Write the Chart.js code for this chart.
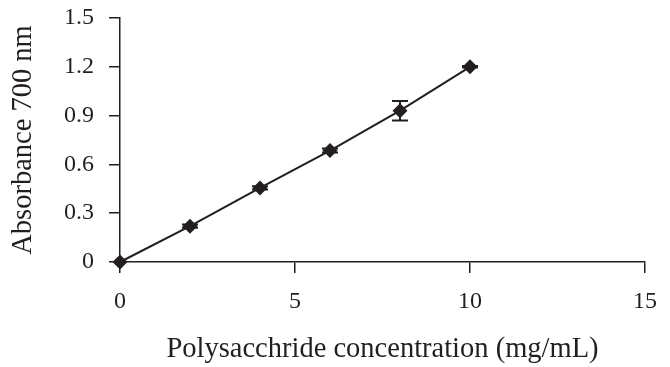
<!DOCTYPE html>
<html>
<head>
<meta charset="utf-8">
<script src="https://cdn.jsdelivr.net/npm/chart.js@4.4.1/dist/chart.umd.min.js"></script>
<style>
  html, body { margin: 0; padding: 0; background: #fff; }
  #wrap { width: 670px; height: 367px; }
</style>
</head>
<body>
<div id="wrap"><canvas id="chart" width="670" height="367"></canvas></div>
<script>
'use strict';

// data
let concentrations = [0, 2, 4, 6, 8, 10];
let absorbance = [0, 0.22, 0.455, 0.685, 0.93, 1.2];
let errors = [0, 0.01, 0.01, 0.012, 0.06, 0.005];
let yTicks = [0, 0.3, 0.6, 0.9, 1.2, 1.5];
let xTicks = [0, 5, 10, 15];

const ink = '#231f20';
const serif = '"Liberation Serif", "DejaVu Serif", serif';

let points = [];
for (let i = 0; i < concentrations.length; i++) {
  points.push({ x: concentrations[i], y: absorbance[i] });
}

// error bars drawn through the scales
const errorBars = {
  id: 'errorBars',
  afterDatasetsDraw(chart) {
    const ctx = chart.ctx;
    const xs = chart.scales.x;
    const ys = chart.scales.y;
    ctx.save();
    ctx.strokeStyle = ink;
    ctx.lineWidth = 2;
    for (let i = 0; i < concentrations.length; i++) {
      if (!errors[i]) continue;
      let px = xs.getPixelForValue(concentrations[i]);
      let top = ys.getPixelForValue(absorbance[i] + errors[i]);
      let bot = ys.getPixelForValue(absorbance[i] - errors[i]);
      ctx.beginPath();
      ctx.moveTo(px, top); ctx.lineTo(px, bot);
      ctx.moveTo(px - 8, top); ctx.lineTo(px + 8, top);
      ctx.moveTo(px - 8, bot); ctx.lineTo(px + 8, bot);
      ctx.stroke();
    }
    ctx.restore();
  }
};

const ctx = document.getElementById('chart').getContext('2d');
const myChart = new Chart(ctx, { //eslint-disable-line
  type: 'scatter',
  data: {
    datasets: [{
      data: points,
      showLine: true,
      clip: false,
      borderColor: ink,
      borderWidth: 2,
      backgroundColor: ink,
      pointStyle: 'rectRot',
      pointRadius: 7.5,
      pointBorderWidth: 0
    }]
  },
  options: {
    responsive: false,
    animation: false,
    layout: { padding: { top: 18, right: 25, left: 0, bottom: 0 } },
    plugins: { legend: { display: false }, tooltip: { enabled: false } },
    scales: {
      x: {
        type: 'linear',
        min: 0, max: 15,
        afterBuildTicks: (s) => { s.ticks = xTicks.map(v => ({ value: v })); },
        afterFit: (s) => { s.height = 105; s.paddingLeft = 0; s.paddingRight = 0; },
        border: { display: true, color: ink, width: 1.5 },
        grid: { drawOnChartArea: false, color: ink, tickLength: 11, lineWidth: 1.5 },
        ticks: { color: ink, font: { family: serif, size: 24 }, padding: 14 },
        title: {
          display: true,
          text: 'Polysacchride concentration (mg/mL)',
          color: ink,
          font: { family: serif, size: 28.5 },
          padding: { top: 6, bottom: 0 }
        }
      },
      y: {
        type: 'linear',
        min: 0, max: 1.5,
        afterBuildTicks: (s) => { s.ticks = yTicks.map(v => ({ value: v })); },
        afterFit: (s) => { s.width = 120; s.paddingTop = 0; s.paddingBottom = 0; },
        border: { display: true, color: ink, width: 1.5 },
        grid: { drawOnChartArea: false, color: ink, tickLength: 11, lineWidth: 1.5 },
        ticks: {
          color: ink,
          font: { family: serif, size: 24 },
          padding: 15,
          callback: (v) => String(v)
        },
        title: {
          display: true,
          text: 'Absorbance 700 nm',
          color: ink,
          font: { family: serif, size: 28.5 },
          padding: { top: 6, bottom: 0 }
        }
      }
    }
  },
  plugins: [errorBars]
});
</script>
</body>
</html>
